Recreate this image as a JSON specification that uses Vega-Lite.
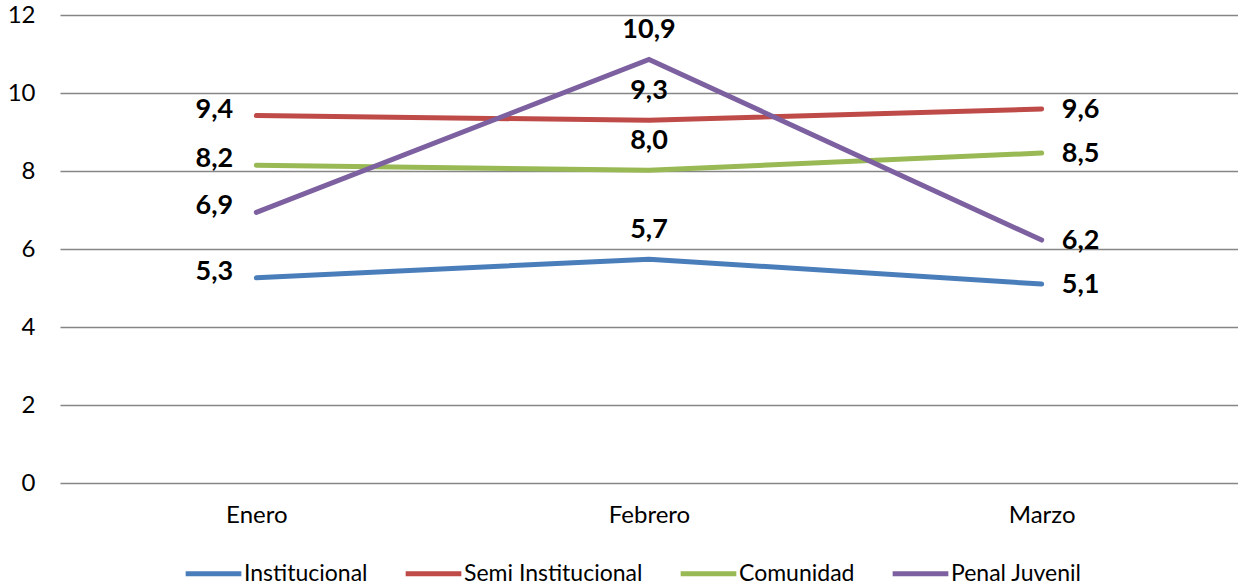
{
  "$schema": "https://vega.github.io/schema/vega-lite/v6.json",
  "width": 1178,
  "height": 468,
  "autosize": "none",
  "padding": {"left": 60, "top": 15, "right": 0, "bottom": 103},
  "config": {
    "view": {"stroke": null},
    "font": "Lato",
    "locale": {"number": {"decimal": ",", "thousands": ".", "grouping": [3], "currency": ["", ""]}}
  },
  "data": {
    "values": [
      {"mes": "Enero", "serie": "Institucional", "valor": 5.26},
      {"mes": "Febrero", "serie": "Institucional", "valor": 5.74},
      {"mes": "Marzo", "serie": "Institucional", "valor": 5.1},
      {"mes": "Enero", "serie": "Semi Institucional", "valor": 9.42},
      {"mes": "Febrero", "serie": "Semi Institucional", "valor": 9.3},
      {"mes": "Marzo", "serie": "Semi Institucional", "valor": 9.59},
      {"mes": "Enero", "serie": "Comunidad", "valor": 8.15},
      {"mes": "Febrero", "serie": "Comunidad", "valor": 8.02},
      {"mes": "Marzo", "serie": "Comunidad", "valor": 8.46},
      {"mes": "Enero", "serie": "Penal Juvenil", "valor": 6.94},
      {"mes": "Febrero", "serie": "Penal Juvenil", "valor": 10.86},
      {"mes": "Marzo", "serie": "Penal Juvenil", "valor": 6.23}
    ]
  },
  "encoding": {
    "x": {
      "field": "mes", "type": "ordinal", "sort": ["Enero", "Febrero", "Marzo"],
      "scale": {"type": "point", "padding": 0.5},
      "axis": {"title": null, "domain": false, "ticks": false, "labelAngle": 0, "labelFontSize": 24, "labelColor": "#000000", "labelPadding": 20, "labelFont": "Lato"}
    },
    "y": {
      "field": "valor", "type": "quantitative",
      "scale": {"domain": [0, 12], "nice": false, "zero": true},
      "axis": {"title": null, "values": [0, 2, 4, 6, 8, 10, 12], "domain": false, "ticks": false, "labelFontSize": 24, "labelColor": "#000000", "labelPadding": 25, "gridColor": "#868686", "gridWidth": 1.5, "labelFont": "Lato"}
    }
  },
  "layer": [
    {
      "mark": {"type": "line", "strokeWidth": 5, "strokeCap": "round"},
      "encoding": {
        "color": {
          "field": "serie", "type": "nominal",
          "scale": {"domain": ["Institucional", "Semi Institucional", "Comunidad", "Penal Juvenil"], "range": ["#4A7EBB", "#BE4B48", "#98B954", "#7D60A0"]},
          "legend": {
            "title": null, "orient": "none", "legendX": 123, "legendY": 528, "direction": "horizontal",
            "symbolType": "stroke", "symbolSize": 3100, "symbolStrokeWidth": 5,
            "labelFontSize": 23, "labelColor": "#000000", "labelFont": "Lato", "labelOffset": 0, "labelLimit": 400, "columnPadding": 27
          }
        }
      }
    },
    {
      "transform": [{"filter": "datum.mes === 'Enero'"}],
      "mark": {"type": "text", "fontWeight": "bold", "fontSize": 27, "dx": -42, "dy": -6, "baseline": "middle", "color": "#000000"},
      "encoding": {"text": {"field": "valor", "type": "quantitative", "format": ".1f"}}
    },
    {
      "transform": [{"filter": "datum.mes === 'Febrero'"}],
      "mark": {"type": "text", "fontWeight": "bold", "fontSize": 27, "dx": 0, "dy": -29, "baseline": "middle", "color": "#000000"},
      "encoding": {"text": {"field": "valor", "type": "quantitative", "format": ".1f"}}
    },
    {
      "transform": [{"filter": "datum.mes === 'Marzo'"}],
      "mark": {"type": "text", "fontWeight": "bold", "fontSize": 27, "dx": 39, "dy": 1, "baseline": "middle", "color": "#000000"},
      "encoding": {"text": {"field": "valor", "type": "quantitative", "format": ".1f"}}
    }
  ]
}
